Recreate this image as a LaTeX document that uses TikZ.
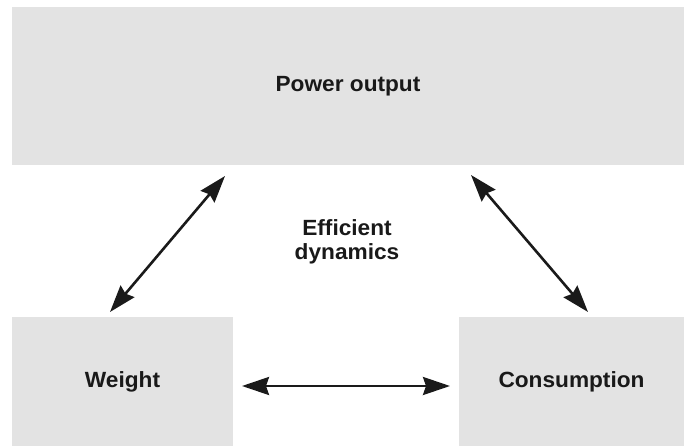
\documentclass[tikz,border=0pt]{standalone}
\usepackage{fontspec}
\setmainfont{Liberation Sans}
\usetikzlibrary{arrows.meta}
\definecolor{boxgray}{HTML}{E3E3E3}
\definecolor{arrowdark}{HTML}{1A1A1A}
\tikzset{
  box/.style={fill=boxgray, draw=none, inner sep=0pt, text=black!90, font=\fontsize{22}{25}\selectfont\bfseries},
  lbl/.style={inner sep=0pt, align=center, text=black!90, font=\fontsize{22}{24}\selectfont\bfseries},
  dbl/.style={draw=arrowdark, line width=2.6pt, {Stealth[length=27pt,width=18pt,inset=3pt]}-{Stealth[length=27pt,width=18pt,inset=3pt]}},
}
\newcommand{\wid}[1]{\scalebox{1.03}[1]{#1}}
\begin{document}
\begin{tikzpicture}[x=1pt,y=-1pt]
\useasboundingbox (0,0) rectangle (684,446);
\node[box, minimum width=672pt, minimum height=158pt] (power) at (348,86) {\raisebox{-2pt}{\wid{Power output}}};
\node[box, minimum width=221pt, minimum height=129pt] (weight) at (122.5,381.5) {\raisebox{-5pt}{\wid{Weight}}};
\node[box, minimum width=225pt, minimum height=129pt] (cons) at (571.5,381.5) {\raisebox{-5pt}{\wid{Consumption}}};
\node[lbl] (eff) at (347,242) {\wid{Efficient}\\\wid{dynamics}};
\coordinate (l1) at (110,312);
\coordinate (l2) at (225,176);
\coordinate (r1) at (471,175);
\coordinate (r2) at (588,312);
\coordinate (h1) at (242,386);
\coordinate (h2) at (450,386);
\draw[dbl] (l1) -- (l2);
\draw[dbl] (r1) -- (r2);
\draw[dbl] (h1) -- (h2);
\end{tikzpicture}
\end{document}
